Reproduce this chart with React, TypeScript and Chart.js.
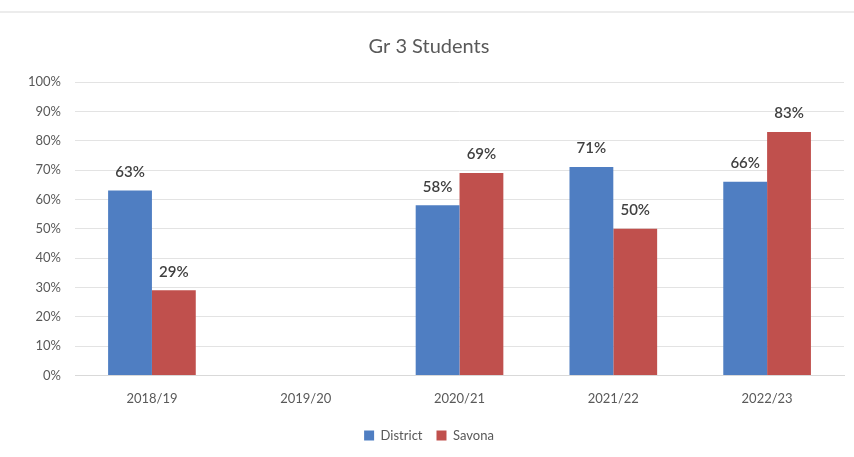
import React, { useEffect, useRef } from "react";
import { Chart, registerables } from "chart.js";

Chart.register(...registerables);

const categories = ["2018/19", "2019/20", "2020/21", "2021/22", "2022/23"];
const districtValues: (number | null)[] = [63, null, 58, 71, 66];
const savonaValues: (number | null)[] = [29, null, 69, 50, 83];
const yTicks = [0, 10, 20, 30, 40, 50, 60, 70, 80, 90, 100];

const labelPlugin = {
  id: "valueLabels",
  afterDatasetsDraw(chart: any) {
    const ctx = chart.ctx;
    ctx.save();
    ctx.font = "600 15px Lato";
    ctx.fillStyle = "#404040";
    ctx.textAlign = "center";
    ctx.textBaseline = "bottom";
    chart.data.datasets.forEach((ds: any, di: number) => {
      const meta = chart.getDatasetMeta(di);
      meta.data.forEach((el: any, i: number) => {
        const v = ds.data[i];
        if (v === null || v === undefined) return;
        ctx.fillText(v + "%", el.x, el.y - 11);
      });
    });
    ctx.restore();
  },
};

export default function App() {
  const ref = useRef<HTMLCanvasElement>(null);
  useEffect(() => {
    if (!ref.current) return;
    const chart = new Chart(ref.current, {
      type: "bar",
      data: {
        labels: categories,
        datasets: [
          {
            label: "District",
            data: districtValues,
            backgroundColor: "#4F7EC2",
            barPercentage: 1,
            categoryPercentage: 0.57,
          },
          {
            label: "Savona",
            data: savonaValues,
            backgroundColor: "#C0504D",
            barPercentage: 1,
            categoryPercentage: 0.57,
          },
        ],
      },
      options: {
        animation: false,
        responsive: false,
        maintainAspectRatio: false,
        layout: { padding: { top: 22, left: 14, right: 10, bottom: 5 } },
        plugins: {
          title: {
            display: true,
            text: "Gr 3 Students",
            color: "#595959",
            font: { family: "Lato", size: 20, weight: "normal" },
            padding: { top: 0, bottom: 23 },
          },
          legend: {
            position: "bottom",
            labels: {
              boxWidth: 10,
              boxHeight: 10,
              color: "#595959",
              font: { family: "Lato", size: 13 },
              padding: 14,
            },
          },
          tooltip: { enabled: false },
        },
        scales: {
          x: {
            grid: { display: false },
            border: { color: "#d9d9d9" },
            ticks: {
              color: "#595959",
              font: { family: "Lato", size: 13 },
              padding: 8,
            },
          },
          y: {
            min: 0,
            max: 100,
            afterBuildTicks(axis: any) {
              axis.ticks = yTicks.map((v) => ({ value: v }));
            },
            grid: { color: "#e3e3e3", drawTicks: false },
            border: { display: false },
            ticks: {
              color: "#595959",
              font: { family: "Lato", size: 13 },
              padding: 14,
              callback: (v: any) => v + "%",
            },
          },
        },
      },
      plugins: [labelPlugin],
    });
    return () => chart.destroy();
  }, []);
  return (
    <div
      style={{
        position: "fixed",
        left: 0,
        top: 0,
        width: 854,
        height: 457,
        background: "#fff",
      }}
    >
      <div
        style={{
          position: "absolute",
          left: 0,
          top: 11,
          width: 854,
          height: 2,
          background: "#ececec",
        }}
      />
      <canvas
        ref={ref}
        width={854}
        height={444}
        style={{ position: "absolute", left: 0, top: 13 }}
      />
    </div>
  );
}
